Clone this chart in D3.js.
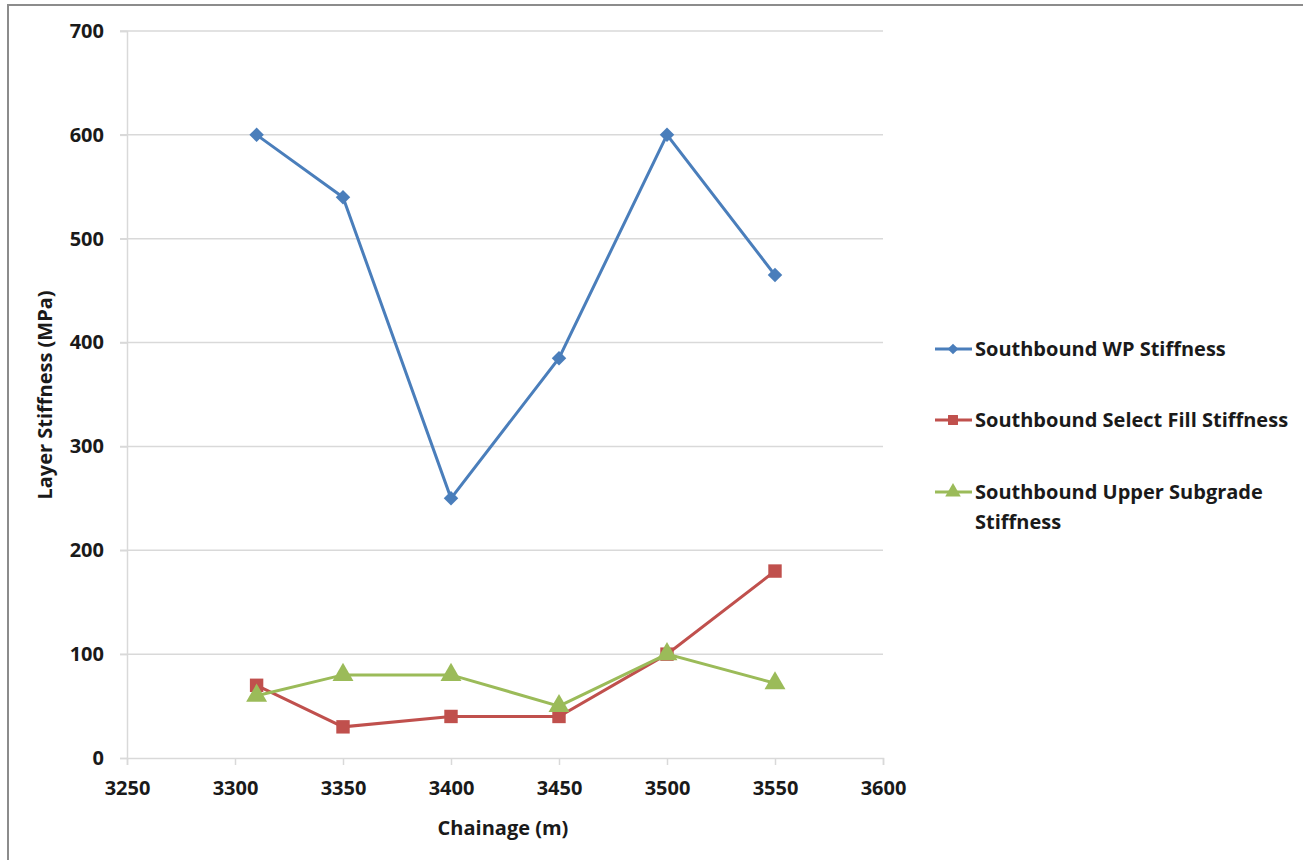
<!DOCTYPE html>
<html><head><meta charset="utf-8">
<script src="https://cdn.jsdelivr.net/npm/d3@7"></script>
<style>body{margin:0;background:#fff;}svg text{font-family:"Open Sans","Noto Sans",sans-serif;font-weight:bold;fill:#1a1a1a;}</style>
</head><body>
<svg id="c" width="1303" height="860"></svg>
<script>
const chainage = [3310, 3350, 3400, 3450, 3500, 3550];
const wpStiffness = [600, 540, 250, 385, 600, 465];
const selectFill = [70, 30, 40, 40, 100, 180];
const upperSubgrade = [60, 80, 80, 50, 100, 72];
const xTicks = [3250, 3300, 3350, 3400, 3450, 3500, 3550, 3600];
const yTicks = [0, 100, 200, 300, 400, 500, 600, 700];
const seriesNames = ["Southbound WP Stiffness", "Southbound Select Fill Stiffness", "Southbound Upper Subgrade Stiffness"];
const colors = ["#4A7EBB", "#C0504D", "#9BBB59"];
const symbols = [d3.symbolSquare, d3.symbolSquare, d3.symbolTriangle];
const rotations = [45, 0, 0];
const FS = "20px";

const svg = d3.select("#c");
svg.append("rect").attr("x",8).attr("y",5).attr("width",1400).attr("height",1000)
  .attr("fill","none").attr("stroke","#8c8c8c").attr("stroke-width",2);

const x = d3.scaleLinear().domain([3250,3600]).range([127,883]);
const y = d3.scaleLinear().domain([0,700]).range([758,31]);

// gridlines
svg.append("g").selectAll("line").data(yTicks.filter(d=>d>0)).join("line")
  .attr("x1",120).attr("x2",883).attr("y1",d=>y(d)).attr("y2",d=>y(d))
  .attr("stroke","#d9d9d9").attr("stroke-width",1.5);

// y axis
const ya = svg.append("g").attr("transform","translate(127,0)")
  .call(d3.axisLeft(y).tickValues(yTicks).tickSize(7).tickPadding(16));
ya.select(".domain").attr("stroke","#d9d9d9").attr("stroke-width",1.5);
ya.selectAll(".tick line").attr("stroke","#d9d9d9").attr("stroke-width",1.5);
ya.selectAll("text").style("font-size",FS).attr("fill","#1a1a1a");

// x axis
const xa = svg.append("g").attr("transform","translate(0,758)")
  .call(d3.axisBottom(x).tickValues(xTicks).tickFormat(d3.format("d")).tickSize(7).tickPadding(16));
xa.select(".domain").attr("stroke","#d9d9d9").attr("stroke-width",1.5);
xa.selectAll(".tick line").attr("stroke","#d9d9d9").attr("stroke-width",1.5);
xa.selectAll("text").style("font-size",FS).attr("fill","#1a1a1a");

svg.append("text").attr("x",503).attr("y",835).attr("text-anchor","middle").style("font-size",FS).text("Chainage (m)");
svg.append("text").attr("transform","translate(52,395) rotate(-90)").attr("text-anchor","middle").style("font-size",FS).text("Layer Stiffness (MPa)");

const data = [wpStiffness, selectFill, upperSubgrade];
const sizes = [105, 180, 190];
const line = d3.line().x((d,i)=>x(chainage[i])).y(d=>y(d));
data.forEach((vals, k) => {
  svg.append("path").datum(vals).attr("d", line).attr("fill","none")
    .attr("stroke", colors[k]).attr("stroke-width",3);
  svg.append("g").selectAll("path").data(vals).join("path")
    .attr("transform",(d,i)=>`translate(${x(chainage[i])},${y(d)}) rotate(${rotations[k]})`)
    .attr("d", d3.symbol().type(symbols[k]).size(sizes[k])).attr("fill", colors[k]);
});

// legend
const legY = [349, 420, 492];
const lg = svg.append("g");
seriesNames.forEach((name,k)=>{
  const yy = legY[k];
  lg.append("line").attr("x1",935).attr("x2",972).attr("y1",yy).attr("y2",yy).attr("stroke",colors[k]).attr("stroke-width",3);
  lg.append("path").attr("transform",`translate(953,${yy}) rotate(${rotations[k]})`).attr("d", d3.symbol().type(symbols[k]).size(sizes[k]*0.55)).attr("fill",colors[k]);
});
lg.append("text").attr("x",975).attr("y",356).style("font-size",FS).text(seriesNames[0]);
lg.append("text").attr("x",975).attr("y",427).style("font-size",FS).text(seriesNames[1]);
const t3 = lg.append("text").attr("x",975).attr("y",499).style("font-size",FS);
t3.append("tspan").attr("x",975).text("Southbound Upper Subgrade");
t3.append("tspan").attr("x",975).attr("dy",30).text("Stiffness");
</script>
</body></html>
